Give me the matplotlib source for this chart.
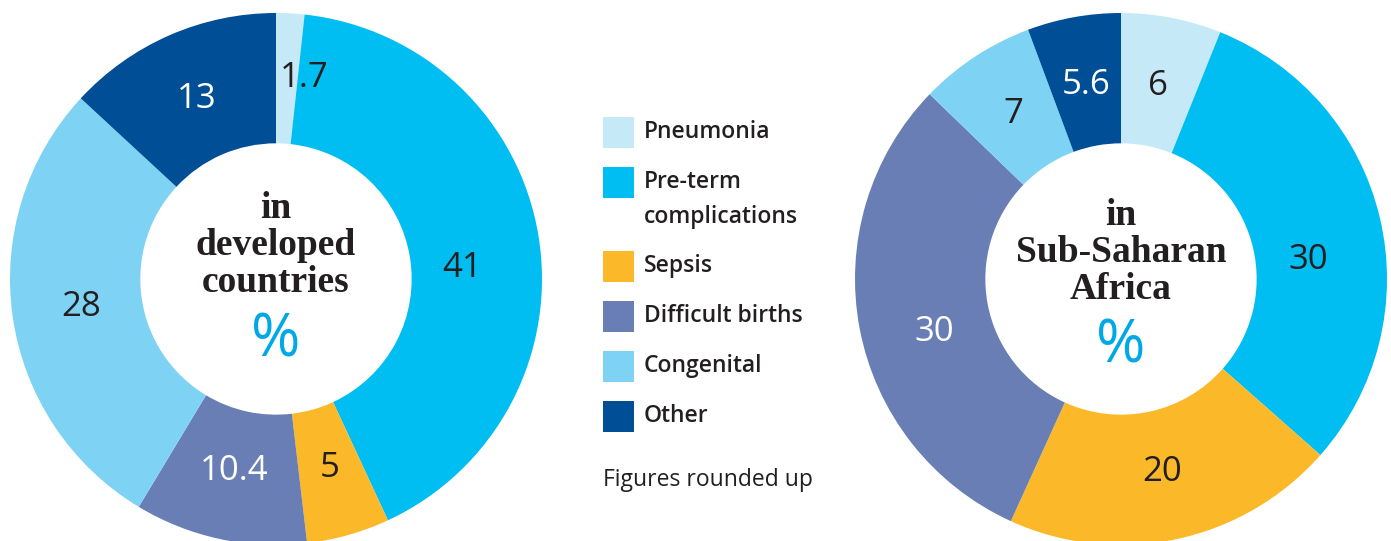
import matplotlib
matplotlib.use('Agg')
import matplotlib.pyplot as plt
from matplotlib.patches import Rectangle

# categories et couleurs
causes = ['Pneumonia', 'Pre-term\ncomplications', 'Sepsis', 'Difficult births', 'Congenital', 'Other']
couleurs = ['#C6E9F8', '#00BDF2', '#FBB829', '#687EB5', '#7ED3F5', '#004E96']

# valeurs en %
developed = [1.7, 41, 5, 10.4, 28, 13]
developed_labels = ['1.7', '41', '5', '10.4', '28', '13']
africa = [6, 30, 20, 30, 7, 5.6]
africa_labels = ['6', '30', '20', '30', '7', '5.6']
# couleur du texte dans chaque part
couleur_txt_dev = ['#231F20', '#231F20', '#231F20', 'white', '#231F20', 'white']
couleur_txt_afr = ['#231F20', '#231F20', '#231F20', 'white', '#231F20', 'white']

W, H = 1391, 541
fig = plt.figure(figsize=(W/100, H/100), dpi=100)
fig.patch.set_facecolor('white')

R = 266  # rayon en pixels

def donut(cx, cy, valeurs, labels, txtcol, titre, decal, ytitre, ypct):
    ax = fig.add_axes([(cx-R)/W, (H-cy-R)/H, 2*R/W, 2*R/H])
    wedges, texts = ax.pie(valeurs, labels=labels, colors=couleurs, startangle=90,
                           counterclock=False, labeldistance=0.74,
                           wedgeprops=dict(width=0.49, linewidth=0),
                           textprops=dict(fontsize=25, family='Open Sans',
                                          ha='center', va='center'))
    for i, (t, c) in enumerate(zip(texts, txtcol)):
        t.set_color(c)
        if i in decal:  # petits ajustements des etiquettes
            x, y = t.get_position()
            t.set_position((x + decal[i][0], y + decal[i][1]))
    ax.set_xlim(-1, 1)
    ax.set_ylim(-1, 1)
    ax.set_aspect('equal')
    ax.axis('off')
    ax.text(0, ytitre, titre, ha='center', va='center', fontsize=27,
            family='Liberation Serif', fontweight='bold', color='#231F20',
            linespacing=1.08)
    ax.text(0, ypct, '%', ha='center', va='center', fontsize=43,
            family='Open Sans', color='#00A9E6')
    return ax

donut(276, 279, developed, developed_labels, couleur_txt_dev, 'in\ndeveloped\ncountries',
      {0: (0.068, 0.015), 1: (-0.03, -0.079)}, 0.125, -0.233)
donut(1121, 279, africa, africa_labels, couleur_txt_afr, 'in\nSub-Saharan\nAfrica',
      {1: (-0.015, -0.10), 3: (0.026, -0.06)}, 0.10, -0.252)

# legende
lax = fig.add_axes([0, 0, 1, 1])
lax.set_xlim(0, W)
lax.set_ylim(H, 0)
lax.axis('off')
ys = [117, 167, 251, 301, 351, 401]
for c, nom, y in zip(couleurs, causes, ys):
    lax.add_patch(Rectangle((603, y), 31, 31, facecolor=c, edgecolor='none'))
    lignes = nom.split('\n')
    for k, l in enumerate(lignes):
        lax.text(644, y + 15 + 35*k, l, ha='left', va='center',
                 fontsize=16.5, family='Open Sans', fontweight='semibold', color='#231F20')
lax.text(603, 480, 'Figures rounded up', ha='left', va='center', fontsize=16.5,
         family='Open Sans', color='#231F20')

plt.savefig('out.png', dpi=100)
